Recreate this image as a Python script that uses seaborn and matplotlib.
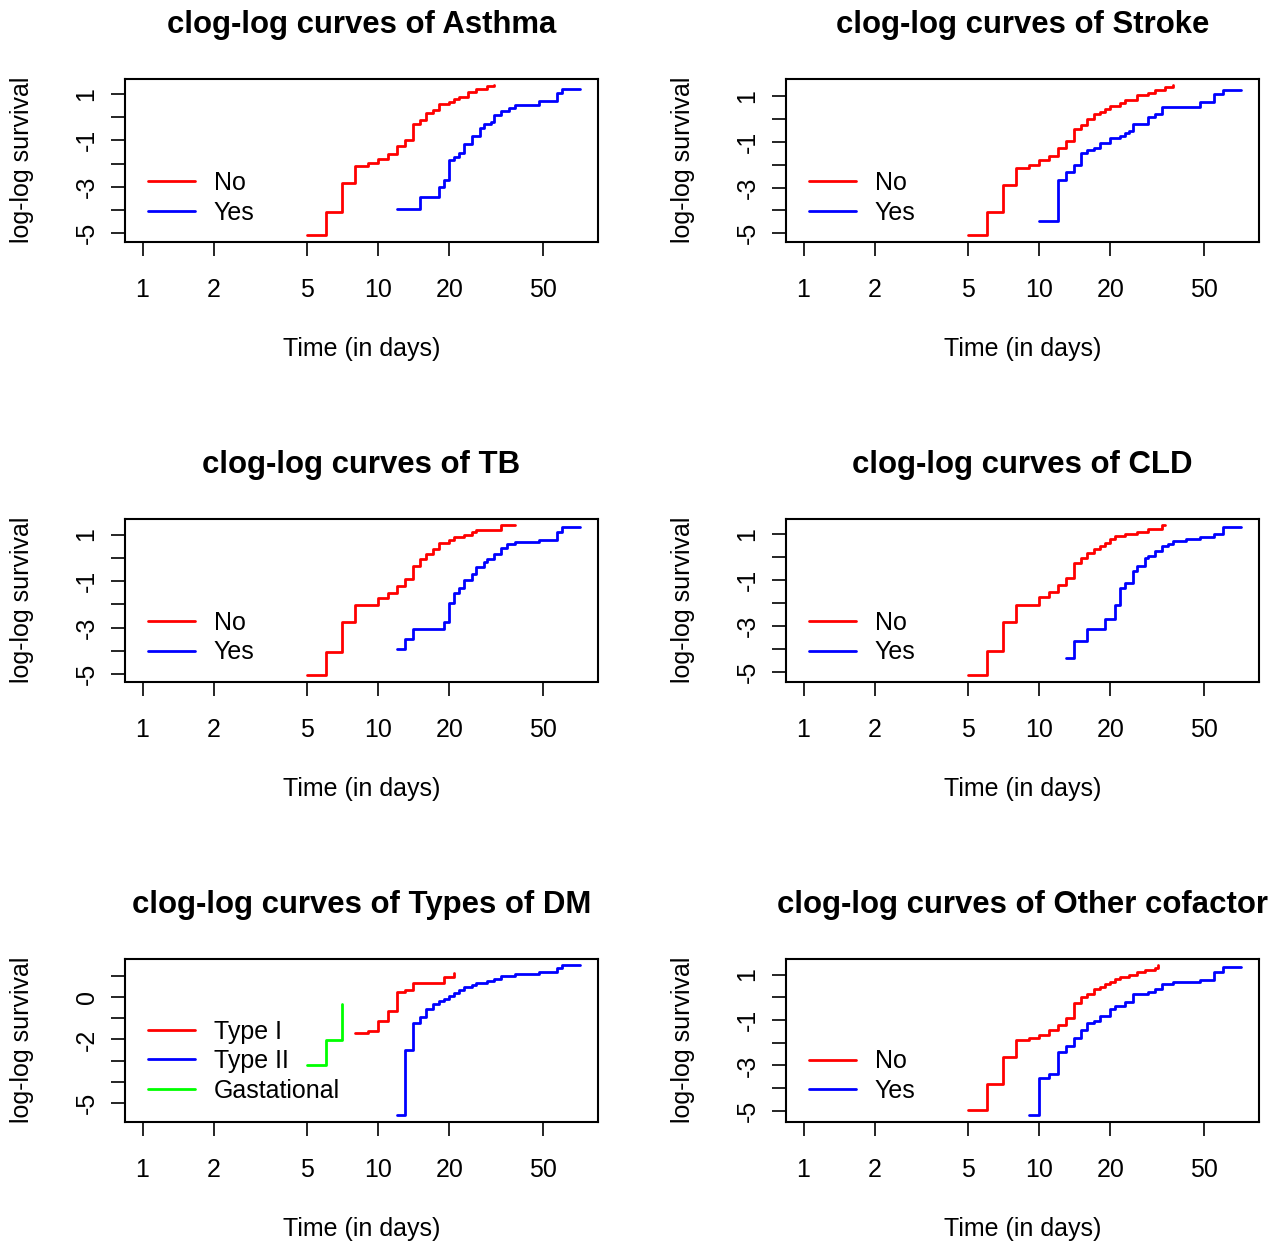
import numpy as np
import pandas as pd
import matplotlib
matplotlib.use("Agg")
import matplotlib.pyplot as plt
from matplotlib.ticker import NullLocator
import seaborn as sns

# ---------------- data ----------------
asthma_no_t = [5, 6, 7, 8, 9, 10, 11, 12, 13, 14, 15, 16, 17, 18, 20, 21, 22, 24, 26, 29, 31]
asthma_no_v = [-5.10, -4.07, -2.83, -2.12, -1.99, -1.80, -1.57, -1.26, -0.97, -0.30, -0.13, 0.19,
               0.30, 0.55, 0.67, 0.78, 0.88, 1.09, 1.20, 1.32, 1.38]
asthma_yes_t = [12, 15, 18, 19, 20, 21, 22, 23, 25, 27, 28, 30, 31, 33, 36, 38, 48, 57, 60, 72]
asthma_yes_v = [-3.96, -3.45, -3.03, -2.71, -1.87, -1.70, -1.55, -1.14, -0.83, -0.45, -0.32, -0.20,
                0.09, 0.28, 0.41, 0.52, 0.71, 1.03, 1.23, 1.23]

stroke_no_t = [5, 6, 7, 8, 9, 10, 11, 12, 13, 14, 15, 16, 17, 18, 19, 20, 22, 23, 26, 29, 31, 34, 37]
stroke_no_v = [-5.10, -4.05, -2.88, -2.13, -2.02, -1.80, -1.61, -1.28, -0.94, -0.44, -0.24, -0.02,
               0.20, 0.32, 0.45, 0.57, 0.69, 0.84, 1.04, 1.16, 1.28, 1.39, 1.49]
stroke_yes_t = [10, 12, 13, 14, 15, 16, 17, 18, 20, 22, 23, 24, 25, 29, 31, 33, 48, 55, 60, 72]
stroke_yes_v = [-4.48, -2.66, -2.33, -2.02, -1.47, -1.36, -1.28, -1.06, -0.84, -0.73, -0.61, -0.51,
                -0.21, 0.08, 0.23, 0.54, 0.75, 1.09, 1.28, 1.28]

tb_no_t = [5, 6, 7, 8, 10, 11, 12, 13, 14, 15, 16, 17, 18, 20, 21, 23, 25, 26, 33, 38]
tb_no_v = [-5.06, -4.03, -2.76, -2.05, -1.72, -1.50, -1.21, -0.90, -0.36, -0.07, 0.15, 0.37, 0.62,
           0.77, 0.90, 0.98, 1.10, 1.20, 1.41, 1.41]
tb_yes_t = [12, 13, 14, 19, 20, 21, 22, 23, 25, 26, 28, 29, 31, 33, 35, 38, 48, 57, 60, 72]
tb_yes_v = [-3.91, -3.48, -3.05, -2.76, -1.93, -1.52, -1.31, -0.94, -0.68, -0.39, -0.19, -0.07,
            0.15, 0.44, 0.59, 0.70, 0.77, 1.10, 1.31, 1.31]

cld_no_t = [5, 6, 7, 8, 10, 11, 12, 13, 14, 15, 16, 17, 18, 19, 20, 21, 23, 26, 29, 33, 34]
cld_no_v = [-5.15, -4.10, -2.81, -2.08, -1.74, -1.52, -1.22, -0.90, -0.24, -0.04, 0.19, 0.38, 0.50,
            0.63, 0.82, 0.92, 1.04, 1.12, 1.24, 1.41, 1.41]
cld_yes_t = [13, 14, 16, 19, 21, 22, 23, 25, 26, 28, 29, 31, 33, 35, 37, 42, 48, 55, 60, 72]
cld_yes_v = [-4.38, -3.65, -3.12, -2.69, -2.07, -1.32, -1.10, -0.59, -0.36, -0.04, 0.08, 0.27,
             0.50, 0.60, 0.70, 0.79, 0.90, 1.04, 1.34, 1.34]

dm_t1_t = [8, 9, 10, 11, 12, 13, 14, 19, 21]
dm_t1_v = [-1.71, -1.59, -1.14, -0.68, 0.24, 0.35, 0.68, 0.95, 1.14]
dm_t2_t = [12, 13, 14, 15, 16, 17, 18, 19, 20, 21, 22, 23, 25, 26, 29, 31, 33, 38, 48, 57, 60, 72]
dm_t2_v = [-5.59, -2.51, -1.24, -0.92, -0.55, -0.32, -0.19, -0.08, 0.05, 0.19, 0.32, 0.45, 0.56,
           0.64, 0.76, 0.87, 0.98, 1.08, 1.19, 1.35, 1.51, 1.51]
dm_gest_t = [5, 6, 7]
dm_gest_v = [-3.20, -2.03, -0.31]

other_no_t = [5, 6, 7, 8, 9, 10, 11, 12, 13, 14, 15, 16, 17, 18, 19, 20, 21, 22, 24, 26, 28, 31, 32]
other_no_v = [-4.98, -3.81, -2.65, -1.87, -1.78, -1.68, -1.46, -1.23, -0.93, -0.26, 0.03, 0.14,
              0.36, 0.45, 0.58, 0.67, 0.81, 0.88, 1.00, 1.10, 1.22, 1.30, 1.42]
other_yes_t = [9, 10, 11, 12, 13, 14, 15, 16, 17, 18, 20, 21, 23, 25, 29, 31, 33, 37, 48, 55, 60, 72]
other_yes_v = [-5.21, -3.58, -3.39, -2.42, -2.13, -1.78, -1.46, -1.13, -1.04, -0.82, -0.53, -0.38,
               -0.19, 0.14, 0.24, 0.36, 0.58, 0.67, 0.78, 1.10, 1.33, 1.33]

titles = ["clog-log curves of Asthma", "clog-log curves of Stroke", "clog-log curves of TB",
          "clog-log curves of CLD", "clog-log curves of Types of DM", "clog-log curves of Other cofactor"]
yes_no = ["No", "Yes"]
dm_groups = ["Type I", "Type II", "Gastational"]
x_ticks = [1, 2, 5, 10, 20, 50]
x_tick_labels = ["1", "2", "5", "10", "20", "50"]
y_ticks = [1, 0, -1, -2, -3, -4, -5]
y_labels_std = ["1", "", "-1", "", "-3", "", "-5"]
y_labels_dm = ["", "0", "", "-2", "", "", "-5"]
x_range = (1, 72)

series = [
    [(asthma_no_t, asthma_no_v), (asthma_yes_t, asthma_yes_v)],
    [(stroke_no_t, stroke_no_v), (stroke_yes_t, stroke_yes_v)],
    [(tb_no_t, tb_no_v), (tb_yes_t, tb_yes_v)],
    [(cld_no_t, cld_no_v), (cld_yes_t, cld_yes_v)],
    [(dm_t1_t, dm_t1_v), (dm_t2_t, dm_t2_v), (dm_gest_t, dm_gest_v)],
    [(other_no_t, other_no_v), (other_yes_t, other_yes_v)],
]
group_names = [yes_no, yes_no, yes_no, yes_no, dm_groups, yes_no]
ytick_labels = [y_labels_std] * 4 + [y_labels_dm, y_labels_std]
colors3 = ["#FF0000", "#0000FF", "#00FF00"]

# ---------------- style ----------------
sns.set_style("white")
plt.rcParams['font.family'] = ['Liberation Sans', 'DejaVu Sans']
plt.rcParams['text.color'] = 'black'
plt.rcParams['axes.labelcolor'] = 'black'
plt.rcParams['xtick.color'] = 'black'
plt.rcParams['ytick.color'] = 'black'

W, H = 1281, 1243
fig = plt.figure(figsize=(W / 100, H / 100), dpi=100)

col_left = [125, 786]
row_top = [79, 519, 959]
box_w, box_h = 473, 162.5
legend_y = [0.268, 0.268, 0.270, 0.270, 0.372, 0.279]

FS = 18
for i in range(6):
    r, c = divmod(i, 2)
    left = col_left[c] / W
    bottom = 1 - (row_top[r] + box_h) / H
    ax = fig.add_axes([left, bottom, box_w / W, box_h / H])
    ax.set_xscale('log')

    frames = []
    for (t, v), name in zip(series[i], group_names[i]):
        frames.append(pd.DataFrame({"time": t, "value": v, "group": name}))
    df = pd.concat(frames, ignore_index=True)
    names = group_names[i]
    sns.lineplot(data=df, x="time", y="value", hue="group", hue_order=names,
                 palette=colors3[:len(names)], estimator=None, sort=False,
                 drawstyle="steps-post", linewidth=2.0, legend=False, ax=ax)

    # R-like 4% axis padding
    lx0, lx1 = np.log10(x_range[0]), np.log10(x_range[1])
    px = 0.04 * (lx1 - lx0)
    ax.set_xlim(10 ** (lx0 - px), 10 ** (lx1 + px))
    ymin, ymax = df["value"].min(), df["value"].max()
    py = 0.04 * (ymax - ymin)
    ax.set_ylim(ymin - py, ymax + py)

    ax.set_xticks(x_ticks)
    ax.set_xticklabels(x_tick_labels)
    ax.xaxis.set_minor_locator(NullLocator())
    ax.set_yticks(y_ticks)
    ax.set_yticklabels(ytick_labels[i], rotation=90, va='center')
    ax.tick_params(axis='both', direction='out', length=10, width=1.2, labelsize=FS,
                   bottom=True, left=True, top=False, right=False)
    ax.tick_params(axis='x', pad=16.5)
    ax.tick_params(axis='y', pad=9)

    for s in ax.spines.values():
        s.set_color('black')
        s.set_linewidth(1.5)

    ax.set_title(titles[i], fontsize=22.4, fontweight='bold', pad=33)
    ax.set_xlabel("Time (in days)", fontsize=FS)
    ax.xaxis.set_label_coords(0.5, -0.66)
    ax.xaxis.label.set_va('center')
    ax.set_ylabel("log-log survival", fontsize=FS)
    ax.yaxis.set_label_coords(-0.218, 0.5)
    ax.yaxis.label.set_va('center')

    ax.legend(ax.lines[:len(names)], names, loc='center left',
              bbox_to_anchor=(0.048, legend_y[i]), frameon=False, fontsize=FS,
              handlelength=1.9, handletextpad=0.75, labelspacing=0.22,
              borderpad=0, borderaxespad=0)

fig.savefig("out.png", dpi=100, facecolor='white')
